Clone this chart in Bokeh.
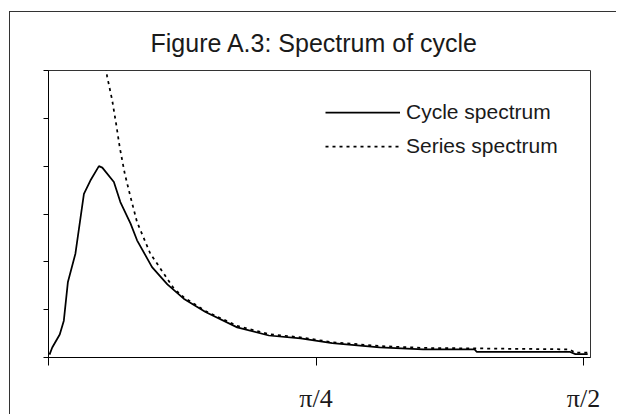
import math
from bokeh.plotting import figure
from bokeh.models import FixedTicker, Range1d, Legend, LegendItem
from bokeh.embed import file_html
from bokeh.resources import INLINE

# ---- data (frequency in radians, spectral density in axis units) ----
cycle_freq = [0.003, 0.011, 0.033, 0.045, 0.057, 0.079, 0.104, 0.123, 0.148, 0.158,
              0.192, 0.211, 0.241, 0.260, 0.304, 0.349, 0.397, 0.461, 0.554, 0.647,
              0.740, 0.833, 0.972, 1.100, 1.251, 1.257, 1.530, 1.547, 1.583]
cycle_spec = [0.06, 0.21, 0.48, 0.77, 1.58, 2.17, 3.42, 3.70, 4.00, 3.97,
              3.67, 3.25, 2.80, 2.45, 1.89, 1.53, 1.23, 0.95, 0.63, 0.46,
              0.40, 0.30, 0.21, 0.17, 0.17, 0.12, 0.12, 0.07, 0.07]

series_freq = [0.160, 0.172, 0.187, 0.200, 0.209, 0.224, 0.241, 0.260, 0.299, 0.339,
               0.368, 0.397, 0.461, 0.554, 0.647, 0.740, 0.833, 0.972, 1.100, 1.251,
               1.530, 1.547, 1.583]
series_spec = [6.50, 5.88, 5.38, 4.82, 4.40, 3.84, 3.35, 2.83, 2.17, 1.75,
               1.44, 1.26, 0.97, 0.66, 0.49, 0.42, 0.32, 0.24, 0.20, 0.19,
               0.17, 0.10, 0.10]

x_ticks = [0.0, math.pi / 4, math.pi / 2]
x_tick_labels = ["", "π/4", "π/2"]
y_ticks = [0, 1, 2, 3, 4, 5, 6]

title_text = "Figure A.3: Spectrum of cycle"
legend_labels = ["Cycle spectrum", "Series spectrum"]

p = figure(frame_width=542, frame_height=287,
           min_border_left=38, min_border_right=26, min_border_top=58, min_border_bottom=45,
           output_backend="svg", toolbar_location=None,
           x_range=Range1d(0, math.pi / 2 * 542 / 535), y_range=Range1d(0, 6))

# outer chart-area border: only its left and top edges fall inside the window
p.styles = {"border-left": "1px solid #333", "border-top": "1px solid #333",
            "margin-left": "9px", "margin-top": "11px"}

p.title.text = title_text
p.title.align = "left"
p.title.offset = 102
p.title.text_font = "Liberation Sans"
p.title.text_font_size = "25px"
p.title.text_font_style = "normal"
p.title.text_color = "#1a1a1a"
p.title.standoff = 28

r1 = p.line(cycle_freq, cycle_spec, line_color="black", line_width=1.75)
r2 = p.line(series_freq, series_spec, line_color="black", line_width=1.75, line_dash="3 4")

legend = Legend(items=[LegendItem(label=legend_labels[0], renderers=[r1]),
                       LegendItem(label=legend_labels[1], renderers=[r2])],
                location=(277, 199), padding=0, margin=0, spacing=10,
                glyph_width=75, glyph_height=24, label_height=24, label_standoff=6,
                label_text_font="Liberation Sans", label_text_font_size="21px",
                label_text_color="#1a1a1a",
                border_line_color=None, background_fill_alpha=0)
p.add_layout(legend)

p.grid.visible = False
p.outline_line_color = "#333"
p.outline_line_width = 1

p.xaxis.ticker = FixedTicker(ticks=x_ticks)
p.xaxis.major_label_overrides = {t: l for t, l in zip(x_ticks, x_tick_labels)}
p.xaxis.major_label_text_font = "Liberation Serif"
p.xaxis.major_label_text_font_size = "26px"
p.xaxis.major_label_text_color = "#1a1a1a"
p.xaxis.major_label_standoff = 18
p.xaxis.major_tick_out = 8
p.xaxis.major_tick_in = 0
p.xaxis.minor_tick_line_color = None
p.xaxis.axis_line_color = "black"
p.xaxis.major_tick_line_color = "black"

p.yaxis.ticker = FixedTicker(ticks=y_ticks)
p.yaxis.major_label_overrides = {t: "" for t in y_ticks}
p.yaxis.major_tick_out = 5
p.yaxis.major_tick_in = 0
p.yaxis.minor_tick_line_color = None
p.yaxis.axis_line_color = "black"
p.yaxis.major_tick_line_color = "black"
p.yaxis.major_label_standoff = 0

open("out.html", "w").write(file_html(p, INLINE))
